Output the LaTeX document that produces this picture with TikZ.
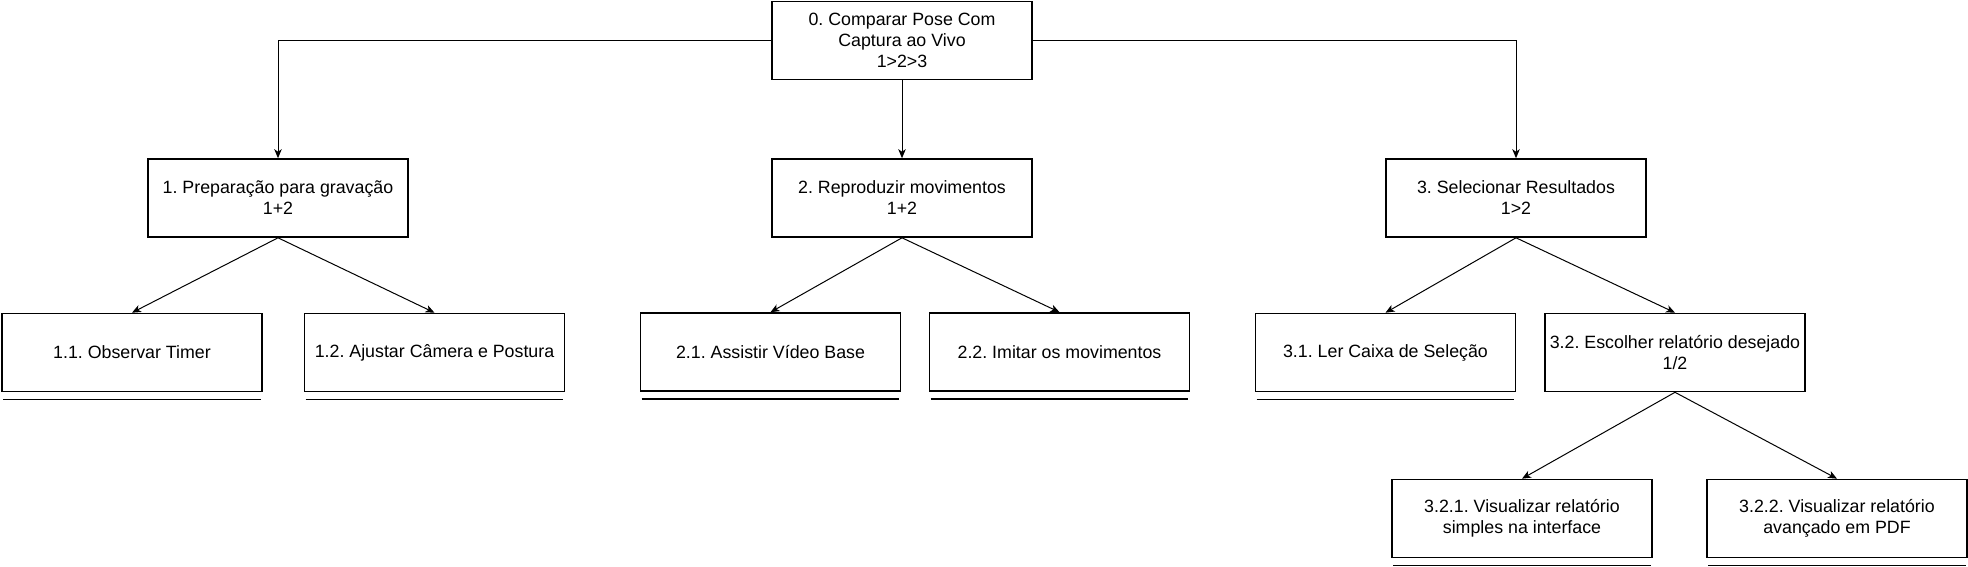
\documentclass[tikz,border=0pt]{standalone}
\usepackage{fontspec}
\setmainfont{Liberation Sans}
\usetikzlibrary{arrows.meta}
\frenchspacing
\tikzset{
  box/.style={draw=black, line width=1.6pt, fill=white, minimum width=260pt, minimum height=78pt,
    inner sep=2pt, align=center, font=\fontsize{17.8pt}{21pt}\selectfont},
  conn/.style={draw=black, line width=1pt, -{Stealth[length=9pt,width=7.5pt,inset=2.5pt]}},
  uline/.style={draw=black, line width=1.5pt}
}
\begin{document}
\begin{tikzpicture}[x=1pt,y=-1pt]
\path[use as bounding box] (0,0) rectangle (1968,567);
\node[box] (b0) at (902,40.5) {0. Comparar Pose Com\\Captura ao Vivo\\1>2>3};
\node[box] (b1) at (278,198) {1. Preparação para gravação\\1+2};
\node[box] (b2) at (902,198) {2. Reproduzir movimentos\\1+2};
\node[box] (b3) at (1516,198) {3. Selecionar Resultados\\1>2};
\node[box] (b11) at (132,352.5) {1.1. Observar Timer};
\node[box] (b12) at (434.5,352.5) {1.2. Ajustar Câmera e Postura};
\node[box] (b21) at (770.5,352) {2.1. Assistir Vídeo Base};
\node[box] (b22) at (1059.5,352) {2.2. Imitar os movimentos};
\node[box] (b31) at (1385.5,352.5) {3.1. Ler Caixa de Seleção};
\node[box] (b32) at (1675,352.5) {3.2. Escolher relatório desejado\\1/2};
\node[box] (b321) at (1522,518.5) {3.2.1. Visualizar relatório\\simples na interface};
\node[box] (b322) at (1837,518.5) {3.2.2. Visualizar relatório\\avançado em PDF};

\draw[conn] (b0.west) -| (b1.north);
\draw[conn] (b0.south) -- (b2.north);
\draw[conn] (b0.east) -| (b3.north);
\foreach \p/\c in {b1/b11,b1/b12,b2/b21,b2/b22,b3/b31,b3/b32,b32/b321,b32/b322}{
  \draw[conn] (\p.south) -- (\c.north);
}
\foreach \b in {b11,b12,b21,b22,b31,b321,b322}{
  \draw[uline] ([xshift=2pt,yshift=-7pt]\b.south west) -- ([xshift=-2pt,yshift=-7pt]\b.south east);
}
\end{tikzpicture}
\end{document}
